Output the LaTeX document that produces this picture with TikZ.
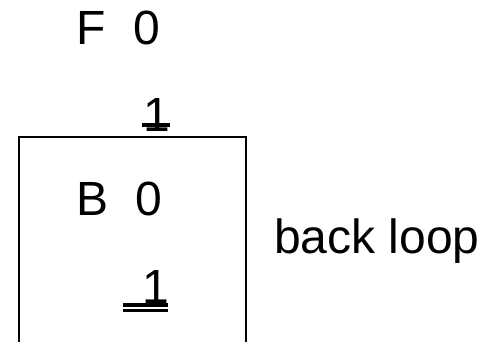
\documentclass[tikz,border=0pt]{standalone}
\usepackage{fontspec}
\setmainfont{Liberation Sans}
\begin{document}
\begin{tikzpicture}[x=1pt,y=-1pt,
  lbl/.style={anchor=base west,inner sep=0pt,outer sep=0pt,font=\fontsize{48}{52}\selectfont},
  bar/.style={line width=3.2pt},
  frame/.style={line width=2pt}]
\useasboundingbox (0,0) rectangle (491,341);
\begin{scope}
\clip (0,0) rectangle (491,341);
\draw[frame] (19,360) -- (19,137) -- (246,137) -- (246,360);
\end{scope}
% upper label pair
\node[lbl] (f) at (76,44) {F};
\node[lbl] (f0) at (133,44) {0};
\node[lbl] (f1) at (143,131) {1};
\draw[bar] (142,125) -- (170,125);
% lower label pair inside the frame
\node[lbl] (b) at (76.5,215) {B};
\node[lbl] (b0) at (135,215) {0};
\node[lbl] (b1) at (142,303) {1};
\draw[bar] (123,305) -- (168,305);
\draw[bar] (123,310.5) -- (168,310.5);
\node[lbl] (loop) at (274,253) {back loop};
\end{tikzpicture}
\end{document}
